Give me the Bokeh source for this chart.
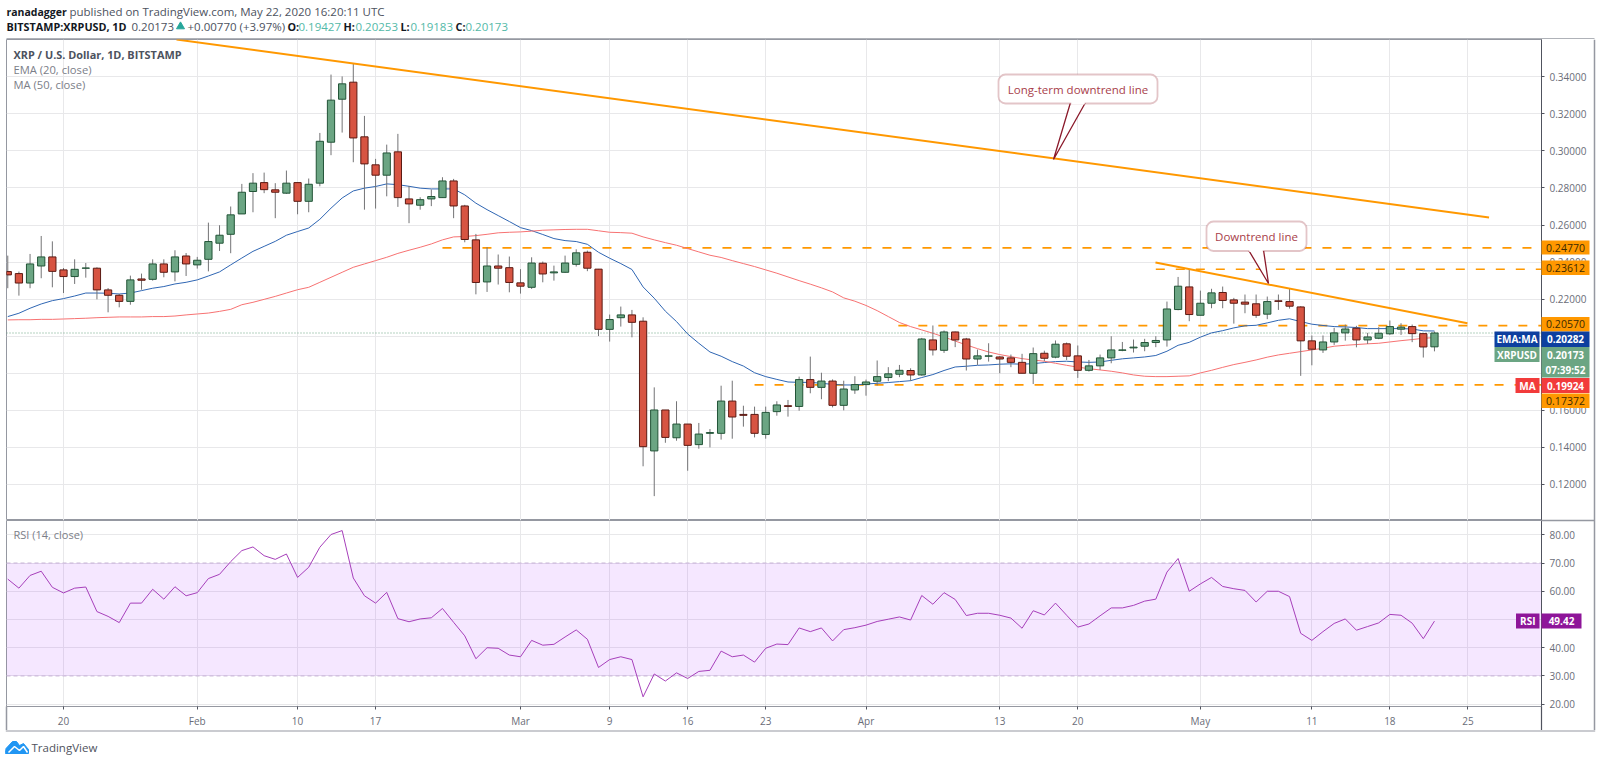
from bokeh.plotting import figure
from bokeh.layouts import column, row
from bokeh.models import (BoxAnnotation, FixedTicker, Label, NumeralTickFormatter, Range1d)
from bokeh.embed import file_html
from bokeh.resources import INLINE

# ---------- data ----------
days = list(range(-5, 124))  # days from Jan 20 2020; Jan 15 .. May 22

opens = [.2349,.2338,.2287,.2379,.2428,.2358,.2322,.2367,.2367,.2250,.2221,.2188,.2309,.2307,.2390,.2347,.2433,
 .2385,.2415,.2502,.2550,.2660,.2781,.2829,.2790,.2772,.2829,.2728,.2826,.3047,.3279,.3371,.3076,.2925,.2869,.2995,.2741,.2707,.2741,.2748,.2838,.2703,.2520,.2293,.2379,.2370,
 .2288,.2264,.2394,.2342,.2345,.2388,.2453,.2362,.2037,.2100,.2115,.2081,.1381,.1602,.1452,.1526,.1415,.1476,.1476,.1650,.1578,.1578,.1470,.1593,.1625,.1621,.1766,.1724,.1758,.1627,.1710,
 .1739,.1757,.1777,.1795,.1815,.1791,.1980,.1924,.2023,.1985,.1877,.1892,.1888,.1883,.1859,.1800,.1908,.1887,.1959,.1894,.1816,.1840,.1883,.1924,.1937,.1946,.1966,.1980,.2144,.2266,
 .2113,.2178,.2236,.2196,.2184,.2175,.2119,.2191,.2187,.2158,.1975,.1926,.1969,.2018,.2043,.1980,.1989,.2013,.2038,.2052,.2014,.19427]
highs = [.2435,.2349,.2444,.2541,.2512,.2368,.2415,.2395,.2372,.2260,.2228,.2327,.2338,.2415,.2415,.2464,.2449,
 .2428,.2613,.2599,.2700,.2822,.2880,.2883,.2826,.2894,.2829,.2851,.3097,.3412,.3402,.3470,.3189,.2957,.3034,.3092,.2811,.2750,.2792,.2858,.2849,.2709,.2552,.2480,.2441,.2430,
 .2362,.2426,.2403,.2381,.2435,.2469,.2462,.2363,.2117,.2160,.2142,.2102,.1724,.1602,.1649,.1526,.1532,.1499,.1733,.1760,.1625,.1620,.1620,.1649,.1656,.1782,.1890,.1803,.1767,.1760,.1784,
 .1766,.1869,.1833,.1845,.1827,.1991,.2058,.2031,.2025,.1991,.1928,.1962,.1892,.1901,.1905,.1939,.1922,.1977,.1966,.1950,.1872,.1901,.2000,.1969,.1982,.1986,.2000,.2187,.2320,.2362,
 .2246,.2256,.2268,.2207,.2225,.2225,.2214,.2225,.2256,.2162,.2004,.2004,.2045,.2063,.2056,.2018,.2049,.2085,.2070,.2063,.2014,.20253]
lows = [.2259,.2219,.2259,.2313,.2264,.2233,.2282,.2316,.2199,.2129,.2156,.2170,.2251,.2300,.2318,.2296,.2325,
 .2365,.2350,.2460,.2448,.2660,.2669,.2772,.2637,.2768,.2658,.2669,.2809,.2977,.3099,.2939,.2683,.2689,.2755,.2698,.2610,.2683,.2702,.2747,.2637,.2507,.2226,.2239,.2279,.2237,
 .2230,.2255,.2291,.2300,.2342,.2376,.2351,.2001,.1971,.2052,.1994,.1298,.1137,.1425,.1436,.1274,.1393,.1400,.1442,.1447,.1512,.1454,.1447,.1571,.1566,.1598,.1692,.1660,.1616,.1600,.1689,
 .1679,.1734,.1757,.1779,.1759,.1787,.1896,.1910,.1941,.1815,.1845,.1863,.1800,.1833,.1800,.1742,.1865,.1881,.1872,.1775,.1809,.1818,.1854,.1919,.1912,.1919,.1941,.1944,.2140,.2081,
 .2113,.2151,.2151,.2068,.2124,.2099,.2092,.2142,.2149,.1786,.1843,.1910,.1953,.1976,.1940,.1958,.1984,.2007,.2007,.1968,.1885,.19183]
closes = [.2331,.2287,.2390,.2428,.2350,.2322,.2361,.2368,.2250,.2221,.2188,.2304,.2302,.2390,.2345,.2428,.2390,
 .2410,.2511,.2545,.2655,.2777,.2826,.2791,.2777,.2826,.2728,.2820,.3052,.3274,.3362,.3070,.2930,.2869,.2989,.2748,.2714,.2737,.2754,.2838,.2703,.2522,.2290,.2379,.2367,.2290,
 .2270,.2395,.2336,.2347,.2395,.2450,.2367,.2037,.2090,.2115,.2075,.1404,.1602,.1454,.1526,.1411,.1472,.1480,.1650,.1564,.1573,.1476,.1589,.1629,.1621,.1766,.1724,.1758,.1627,.1715,.1739,
 .1753,.1782,.1797,.1816,.1791,.1985,.1926,.2023,.1980,.1877,.1894,.1894,.1877,.1859,.1800,.1906,.1881,.1957,.1892,.1816,.1840,.1883,.1926,.1926,.1941,.1966,.1977,.2147,.2270,.2117,
 .2178,.2234,.2193,.2178,.2173,.2113,.2187,.2188,.2162,.1975,.1930,.1969,.2018,.2039,.1980,.1996,.2016,.2052,.2049,.2014,.1942,.20173]
ema20 = [.2106,.2124,.2151,.2174,.2192,.2203,.2217,.2233,.2233,.2232,.2228,.2233,.2246,.2259,.2268,.2282,.2291,
 .2304,.2325,.2347,.2385,.2422,.2458,.2485,.2512,.2545,.2565,.2584,.2631,.2691,.2746,.2784,.2799,.2808,.2822,.2818,.2809,.2799,.2795,.2795,.2795,.2763,.2718,.2683,.2651,.2619,
 .2586,.2570,.2549,.2527,.2516,.2511,.2496,.2453,.2421,.2392,.2360,.2266,.2205,.2135,.2079,.2012,.1962,.1915,.1892,.1863,.1839,.1803,.1782,.1767,.1753,.1751,.1751,.1746,.1740,.1737,.1737,
 .1742,.1746,.1750,.1755,.1760,.1777,.1793,.1815,.1834,.1838,.1843,.1845,.1849,.1851,.1849,.1852,.1858,.1863,.1865,.1861,.1859,.1861,.1870,.1878,.1883,.1888,.1896,.1919,.1951,.1967,
 .1995,.2018,.2030,.2045,.2056,.2059,.2072,.2086,.2094,.2079,.2065,.2058,.2052,.2050,.2047,.2041,.2041,.2041,.2041,.2039,.2029,.20282]
ma50 = [.2088,.2089,.2089,.2091,.2091,.2093,.2095,.2097,.2100,.2102,.2104,.2104,.2104,.2106,.2106,.2109,.2115,
 .2120,.2125,.2134,.2145,.2170,.2183,.2199,.2215,.2233,.2251,.2264,.2291,.2318,.2345,.2372,.2390,.2408,.2426,.2447,.2464,.2480,.2498,.2520,.2536,.2538,.2543,.2550,.2558,.2561,
 .2563,.2567,.2572,.2574,.2576,.2577,.2577,.2569,.2561,.2559,.2556,.2536,.2520,.2505,.2491,.2473,.2455,.2437,.2425,.2408,.2392,.2376,.2358,.2340,.2320,.2300,.2281,.2261,.2239,.2207,.2189,
 .2166,.2138,.2106,.2074,.2052,.2034,.2016,.1996,.1974,.1953,.1933,.1915,.1901,.1890,.1879,.1872,.1865,.1854,.1843,.1833,.1825,.1818,.1811,.1802,.1791,.1784,.1782,.1782,.1784,.1786,
 .1802,.1816,.1832,.1847,.1859,.1872,.1887,.1899,.1908,.1917,.1926,.1935,.1946,.1951,.1955,.1959,.1962,.1969,.1976,.1982,.1989,.19924]
rsi14 = [64.3,61.1,65.6,67.1,61.4,59.4,61.1,61.5,52.8,51.1,48.9,55.8,55.8,60.7,57.2,61.6,58.4,
 59.5,64.5,66.0,70.5,74.4,75.7,72.6,71.3,73.2,64.9,68.5,75.6,80.1,81.5,64.7,58.4,55.8,59.6,50.3,49.2,50.2,50.6,53.9,49.0,44.2,36.1,40.0,39.8,37.4,
 36.8,42.6,40.9,41.2,43.8,46.3,43.0,33.0,35.8,36.8,35.8,22.6,30.7,28.2,31.1,29.1,31.6,32.0,38.8,36.8,37.4,34.9,39.8,41.3,41.1,47.0,45.7,47.0,42.4,46.4,47.1,
 48.0,49.3,50.1,50.9,49.8,58.5,55.4,59.5,57.1,51.4,52.2,52.2,51.5,50.5,46.9,53.1,51.6,55.8,51.5,47.3,48.4,51.3,54.1,54.1,55.0,56.5,57.2,66.8,71.6,60.0,
 62.6,64.9,61.7,60.9,60.3,56.2,60.0,60.0,58.1,45.1,42.6,45.7,48.6,50.2,46.2,47.5,48.8,51.8,51.5,48.7,43.2,49.42]

price_ticks = [.12,.14,.16,.18,.20,.22,.24,.26,.28,.30,.32,.34]
rsi_ticks = [20,30,40,50,60,70,80]
date_ticks = [0,12,21,28,41,49,56,63,72,84,91,102,112,119,126]
date_labels = ["20","Feb","10","17","Mar","9","16","23","Apr","13","20","May","11","18","25"]
levels = [.2477,.23612,.2057,.17372]
level_starts = [34,98,74.9,62]
long_line_x = [10.14,127.9]
long_line_y = [.3601,.2641]
down_line_x = [97.97,125.96]
down_line_y = [.2398,.2070]
last_close = .20173

# ---------- layout constants ----------
PX0, PXD = 63.0, 11.146
PY0, PYD = 76.3, 1853.0
RY0, RYD = 534.3, 2.823
L, R, EDGE = 6, 1541, 1594
T, M, B, FB = 39, 520, 706, 730
FONT = "Open Sans"
GRID = "#e8e8ea"
BORDER = "#9598a1"
AXIS = "#50535e"
TXT = "#6a6d78"
ORANGE = "#ff9800"
UP, DOWN = "#6ba583", "#d75442"
UPB, DOWNB = "#225437", "#5b1a13"
WICK = "#737375"

def X(px): return (px - PX0) / PXD
def Y(py): return .34 - (py - PY0) / PYD
def RV(py): return 80 - (py - RY0) / RYD

def lab(p, x, y, text, size, color, style="normal", align="left"):
    p.add_layout(Label(x=x, y=y, text=text, text_font=FONT, text_font_size=f"{size}px",
                       text_color=color, text_font_style=style, text_align=align,
                       text_baseline="middle"))

def pixel_fig(h, y_top):
    p = figure(width=1600, height=h, x_range=Range1d(0, 1600), y_range=Range1d(y_top + h, y_top),
               x_axis_type=None, y_axis_type=None, toolbar_location=None, output_backend="svg",
               min_border=0, outline_line_color=None)
    p.xgrid.visible = False
    p.ygrid.visible = False
    return p

# ---------- header ----------
p0 = pixel_fig(T, 0)
HC = "#4c525e"
lab(p0, 6, 11, "ranadagger", 10.5, "#131722", "bold")
lab(p0, 69, 11, "published on TradingView.com, May 22, 2020 16:20:11 UTC", 11.5, HC)
lab(p0, 6, 26, "BITSTAMP:XRPUSD, 1D", 10.8, "#131722", "bold")
lab(p0, 131, 26, "0.20173", 11.5, HC)
p0.scatter([180], [26], marker="triangle", size=8, color="#26a69a")
lab(p0, 187, 26, "+0.00770 (+3.97%)", 11.5, HC)
for xa, a, xb, b in [(287, "O:", 298, "0.19427"), (343, "H:", 355, "0.20253"),
                     (400, "L:", 410, "0.19183"), (455, "C:", 465, "0.20173")]:
    lab(p0, xa, 26, a, 10.8, "#131722", "bold")
    lab(p0, xb, 26, b, 11.5, "#53b9a8")
p0.line([L, EDGE], [T - .5, T - .5], color=BORDER, line_width=1.5)

# ---------- price pane ----------
p1 = figure(width=1600, height=M - T, x_range=Range1d(X(L), X(R)), y_range=Range1d(Y(M), Y(T)),
            y_axis_location="right", toolbar_location=None, output_backend="svg",
            min_border_left=L, min_border_right=1600 - R, min_border_top=0, min_border_bottom=0,
            outline_line_color=BORDER)
p1.xaxis.visible = False
p1.xgrid.ticker = FixedTicker(ticks=date_ticks)
p1.ygrid.ticker = FixedTicker(ticks=price_ticks)
p1.xgrid.grid_line_color = GRID
p1.ygrid.grid_line_color = GRID
ax = p1.yaxis[0]
ax.ticker = FixedTicker(ticks=price_ticks)
ax.formatter = NumeralTickFormatter(format="0.00000")
ax.major_label_text_font = FONT
ax.major_label_text_font_size = "10px"
ax.major_label_text_color = TXT
ax.axis_line_color = AXIS
ax.major_tick_line_color = AXIS
ax.major_tick_in = 0
ax.major_tick_out = 3
ax.minor_tick_line_color = None
ax.major_label_standoff = 5

for lv, s in zip(levels, level_starts):
    p1.line([s, X(R)], [lv, lv], color=ORANGE, line_width=1.6, line_dash="9 11")
p1.line([X(L), X(R)], [last_close, last_close], color=UP, line_width=1, line_dash="1 2")
p1.line(days, ema20, color="#2f66b3", line_width=1)
p1.line(days, ma50, color="#f77272", line_width=1)

up = [c >= o for o, c in zip(opens, closes)]
p1.segment(days, lows, days, highs, color=WICK, line_width=1)
p1.vbar(days, 0.65, [min(o, c) for o, c in zip(opens, closes)], [max(o, c) for o, c in zip(opens, closes)],
        fill_color=[UP if u else DOWN for u in up], line_color=[UPB if u else DOWNB for u in up], line_width=1)
p1.line(long_line_x, long_line_y, color=ORANGE, line_width=2)
p1.line(down_line_x, down_line_y, color=ORANGE, line_width=2)

# callouts
CB, CT, CP = "#a23e4a", "#a8404a", "#8b1a2b"
def callout(x0, y0, x1, y1, bx0, bx1, tipx, tipy, text):
    p1.patch([X(bx0), X(tipx), X(bx1)], [Y(y1 - 1), Y(tipy), Y(y1 - 1)], fill_color="white",
             line_color=CP, line_width=1.3)
    p1.add_layout(BoxAnnotation(left=X(x0), right=X(x1), top=Y(y0), bottom=Y(y1), fill_color="white",
                                fill_alpha=1, line_color=CB, line_width=1.8, border_radius=7))
    p1.add_layout(BoxAnnotation(left=X(bx0 + .8), right=X(bx1 - .8), top=Y(y1 - 2), bottom=Y(y1 + 1),
                                fill_color="white", fill_alpha=1, line_color=None))
    lab(p1, X((x0 + x1) / 2), Y((y0 + y1) / 2), text, 11.5, CT, align="center")
callout(998, 74, 1157, 103, 1070, 1085, 1053, 159, "Long-term downtrend line")
callout(1206, 221, 1306, 250.5, 1248, 1263, 1268, 283, "Downtrend line")

lab(p1, X(13), Y(54), "XRP / U.S. Dollar, 1D, BITSTAMP", 10.9, "#4c525e", "bold")
lab(p1, X(13), Y(69), "EMA (20, close)", 11.2, "#7b7e88")
lab(p1, X(13), Y(84), "MA (50, close)", 11.2, "#7b7e88")

# ---------- RSI pane ----------
p2 = figure(width=1600, height=FB - M, x_range=p1.x_range, y_range=Range1d(RV(B), RV(M)),
            y_axis_location="right", toolbar_location=None, output_backend="svg",
            min_border_left=L, min_border_right=1600 - R, min_border_top=0, min_border_bottom=FB - B,
            outline_line_color=BORDER)
p2.xgrid.ticker = FixedTicker(ticks=date_ticks)
p2.ygrid.ticker = FixedTicker(ticks=rsi_ticks)
p2.xgrid.grid_line_color = GRID
p2.ygrid.grid_line_color = GRID
p2.add_layout(BoxAnnotation(bottom=30, top=70, fill_color="#9915ff", fill_alpha=.1, line_color=None, level="underlay"))
for v in (30, 70):
    p2.line([X(L), X(R)], [v, v], color="#c8b4d6", line_width=1, line_dash="4 3")
p2.line(days, rsi14, color="#a63fba", line_width=1)
ay = p2.yaxis[0]
ay.ticker = FixedTicker(ticks=rsi_ticks)
ay.formatter = NumeralTickFormatter(format="0.00")
ay.major_label_text_font = FONT
ay.major_label_text_font_size = "10px"
ay.major_label_text_color = TXT
ay.axis_line_color = AXIS
ay.major_tick_line_color = AXIS
ay.major_tick_in = 0
ay.major_tick_out = 3
ay.minor_tick_line_color = None
ay.major_label_standoff = 5
ax2 = p2.xaxis[0]
ax2.ticker = FixedTicker(ticks=date_ticks)
ax2.major_label_overrides = dict(zip(date_ticks, date_labels))
ax2.major_label_text_font = FONT
ax2.major_label_text_font_size = "10px"
ax2.major_label_text_color = TXT
ax2.axis_line_color = BORDER
ax2.major_tick_line_color = AXIS
ax2.major_tick_in = 0
ax2.major_tick_out = 3
ax2.minor_tick_line_color = None
ax2.major_label_standoff = 4
lab(p2, X(13), RV(534), "RSI (14, close)", 11, "#7b7e88")

# ---------- transparent overlay holding the price tags and frame edges ----------
ov = pixel_fig(FB - T, T)
ov.background_fill_color = None
ov.border_fill_color = None
ov.margin = (0, 0, 0, -1600)

def tag(x0, x1, y0, y1, color, text, tcolor, size=10, style="bold"):
    ov.quad(left=[x0], right=[x1], top=[y0], bottom=[y1], fill_color=color, line_color=None)
    lab(ov, (x0 + x1) / 2, (y0 + y1) / 2, text, size, tcolor, style, "center")

DARK = "#3d2a00"
tag(1541, 1589, 240, 254, ORANGE, "0.24770", DARK, size=10.5, style="normal")
tag(1541, 1589, 260, 274.5, ORANGE, "0.23612", DARK, size=10.5, style="normal")
tag(1541, 1589, 316.5, 331, ORANGE, "0.20570", DARK, size=10.5, style="normal")
tag(1494, 1539, 331, 346.5, "#0d3f9f", "EMA:MA", "#ffffff")
tag(1541, 1589, 331, 346.5, "#0d3f9f", "0.20282", "#ffffff")
tag(1494, 1539, 346.5, 361.5, UP, "XRPUSD", "#ffffff")
tag(1541, 1589, 346.5, 361.5, UP, "0.20173", "#ffffff")
tag(1541, 1589, 361.5, 377, UP, "07:39:52", "#ffffff")
tag(1515, 1539, 377.5, 392.5, "#f23b3b", "MA", "#ffffff")
tag(1541, 1589, 377.5, 392.5, "#f23b3b", "0.19924", "#ffffff")
tag(1541, 1589, 393, 407.5, ORANGE, "0.17372", DARK, size=10.5, style="normal")
tag(1515.5, 1539, 613, 628, "#8e1599", "RSI", "#ffffff")
tag(1541, 1581, 613, 628, "#8e1599", "49.42", "#ffffff")
ov.line([EDGE, EDGE], [T, FB], color=BORDER, line_width=1.5)
ov.line([R, EDGE], [M, M], color=BORDER, line_width=1.5)
ov.line([L, L], [B, FB], color=BORDER, line_width=1.5)
ov.line([R, R], [B, FB], color=AXIS, line_width=1.2)

# ---------- footer ----------
p3 = pixel_fig(763 - FB, FB)
p3.line([L - .7, EDGE + .7], [FB + .3, FB + .3], color=BORDER, line_width=1.5)
p3.patch([5, 5.5, 12, 16, 19, 23, 28, 28, 5], [752, 748, 741, 741, 745, 743, 749, 753, 753], color="#2196f3")
p3.line([8, 14, 19, 23, 27], [752, 746, 750, 746, 752], color="white", line_width=1.5)
lab(p3, 31, 747, "TradingView", 11.5, "#50535e")

panes = row(column(p1, p2, spacing=0), ov, spacing=0)
root = column(p0, panes, p3, spacing=0, margin=(0, 0, 0, 0))
open("out.html", "w").write(file_html(root, INLINE))
